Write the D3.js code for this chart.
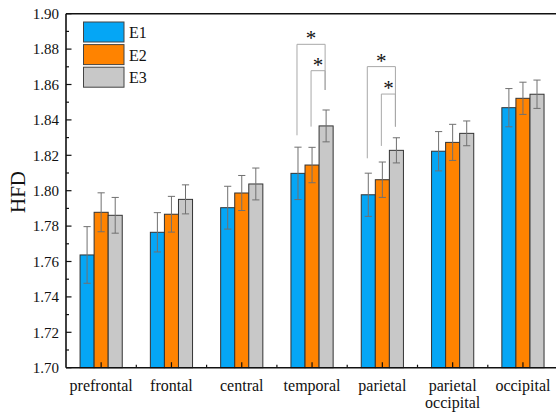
<!DOCTYPE html>
<html>
<head>
<meta charset="utf-8">
<script src="https://cdn.jsdelivr.net/npm/d3@7"></script>
<style>
  html, body { margin: 0; padding: 0; background: #fff; }
  svg { display: block; }
  text { font-family: "Liberation Serif", "Times New Roman", serif; fill: #111; }
</style>
</head>
<body>
<svg id="chart" width="556" height="417"></svg>
<script>
// Regions (x-axis categories); "parietal occipital" wraps onto two lines
const categories = ["prefrontal", "frontal", "central", "temporal", "parietal", "parietal occipital", "occipital"];
const seriesNames = ["E1", "E2", "E3"];
const seriesColors = ["#05a6f5", "#ff8300", "#c8c8c8"];

// Mean HFD per region for each condition
const e1Mean = [1.7637, 1.7765, 1.7904, 1.8098, 1.7977, 1.8223, 1.8469];
const e2Mean = [1.7878, 1.7867, 1.7987, 1.8145, 1.8062, 1.8273, 1.8522];
const e3Mean = [1.7861, 1.7951, 1.8038, 1.8366, 1.8228, 1.8324, 1.8545];

// Error (half-length of each error bar)
const e1Err = [0.0160, 0.0111, 0.0121, 0.0148, 0.0122, 0.0111, 0.0108];
const e2Err = [0.0110, 0.0101, 0.0099, 0.0100, 0.0100, 0.0102, 0.0091];
const e3Err = [0.0101, 0.0082, 0.0090, 0.0090, 0.0071, 0.0070, 0.0080];

// Y axis ticks
const yTicks = [1.70, 1.72, 1.74, 1.76, 1.78, 1.80, 1.82, 1.84, 1.86, 1.88, 1.90];

// Significance brackets: region, the two compared series, top level and leg ends (HFD units)
const sigCategory = ["temporal", "temporal", "parietal", "parietal"];
const sigFrom     = ["E1", "E2", "E1", "E2"];
const sigTo       = ["E3", "E3", "E3", "E3"];
const sigTop      = [1.8827, 1.8678, 1.8701, 1.8546];
const sigFromEnd  = [1.8313, 1.8362, 1.8183, 1.8253];
const sigToEnd    = [1.8569, 1.8569, 1.8362, 1.8362];

const means = [e1Mean, e2Mean, e3Mean];
const errs = [e1Err, e2Err, e3Err];

const svg = d3.select("#chart");
const margin = { left: 66, top: 13.7, bottom: 367.7 };
const plotRight = 558.1;

const x0 = d3.scaleBand().domain(categories).range([margin.left, plotRight]).padding(0);
const bw = x0.bandwidth();
const x1 = d3.scaleBand().domain(seriesNames).range([bw * 0.2, bw * 0.8]).padding(0);
const y = d3.scaleLinear().domain([1.70, 1.90]).range([margin.bottom, margin.top]);

// Bars
const rows = [];
categories.forEach((c, i) => {
  seriesNames.forEach((s, j) => {
    rows.push({ cat: c, ser: s, color: seriesColors[j], v: means[j][i], e: errs[j][i] });
  });
});

const gBars = svg.append("g");
gBars.selectAll("rect")
  .data(rows)
  .join("rect")
  .attr("x", d => x0(d.cat) + x1(d.ser))
  .attr("y", d => y(d.v))
  .attr("width", x1.bandwidth())
  .attr("height", d => y(1.70) - y(d.v))
  .attr("fill", d => d.color)
  .attr("stroke", "#333")
  .attr("stroke-width", 1);

// Error bars
const capHalf = 3.6;
const gErr = svg.append("g").attr("stroke", "#707070").attr("stroke-width", 1).attr("fill", "none");
rows.forEach(d => {
  const cx = x0(d.cat) + x1(d.ser) + x1.bandwidth() / 2;
  const yt = y(d.v + d.e), yb = y(d.v - d.e);
  gErr.append("line").attr("x1", cx).attr("x2", cx).attr("y1", yt).attr("y2", yb);
  gErr.append("line").attr("x1", cx - capHalf).attr("x2", cx + capHalf).attr("y1", yt).attr("y2", yt);
  gErr.append("line").attr("x1", cx - capHalf).attr("x2", cx + capHalf).attr("y1", yb).attr("y2", yb);
});

// Significance brackets with asterisks
const gSig = svg.append("g");
sigCategory.forEach((c, k) => {
  const xa = x0(c) + x1(sigFrom[k]) + x1.bandwidth() / 2 - 1;
  const xb = x0(c) + x1(sigTo[k]) + x1.bandwidth() / 2 - 1;
  const path = d3.path();
  path.moveTo(xa, y(sigFromEnd[k]));
  path.lineTo(xa, y(sigTop[k]));
  path.lineTo(xb, y(sigTop[k]));
  path.lineTo(xb, y(sigToEnd[k]));
  gSig.append("path").attr("d", path.toString())
    .attr("fill", "none").attr("stroke", "#a8a8a8").attr("stroke-width", 1);
  gSig.append("text")
    .attr("x", (xa + xb) / 2)
    .attr("y", y(sigTop[k]) + 1)
    .attr("text-anchor", "middle")
    .attr("font-size", 21)
    .text("*");
});

// Axes
const yAxis = d3.axisLeft(y).tickValues(yTicks).tickFormat(d3.format(".2f")).tickSize(0).tickPadding(7);
const gy = svg.append("g").attr("transform", `translate(${margin.left},0)`).call(yAxis);
gy.select(".domain").remove();
gy.attr("font-family", null);
gy.selectAll("text").attr("font-size", 15).attr("fill", "#111");

// inward major/minor ticks on the y axis
const yMinor = d3.range(0, 20).map(i => 1.71 + i * 0.02).filter(v => v < 1.90);
const gTicks = svg.append("g").attr("stroke", "#111").attr("stroke-width", 1.2);
yTicks.forEach(v => {
  gTicks.append("line").attr("x1", margin.left).attr("x2", margin.left + 5.5).attr("y1", y(v)).attr("y2", y(v));
});
yMinor.forEach(v => {
  gTicks.append("line").attr("x1", margin.left).attr("x2", margin.left + 3).attr("y1", y(v)).attr("y2", y(v));
});
// inward ticks on the x axis: major at category centres, minor at boundaries
categories.forEach(c => {
  const cx = x0(c) + bw / 2;
  gTicks.append("line").attr("x1", cx).attr("x2", cx).attr("y1", y(1.70)).attr("y2", y(1.70) - 5.5);
  const bx = x0(c) + bw;
  gTicks.append("line").attr("x1", bx).attr("x2", bx).attr("y1", y(1.70)).attr("y2", y(1.70) - 3);
});

// frame lines: left, bottom, top
const gFrame = svg.append("g").attr("stroke", "#111").attr("stroke-width", 1.6).attr("fill", "none");
gFrame.append("line").attr("x1", margin.left).attr("x2", margin.left).attr("y1", margin.top).attr("y2", margin.bottom);
gFrame.append("line").attr("x1", margin.left).attr("x2", plotRight).attr("y1", margin.bottom).attr("y2", margin.bottom);
gFrame.append("line").attr("x1", margin.left).attr("x2", plotRight).attr("y1", margin.top).attr("y2", margin.top);

// category labels
const gx = svg.append("g");
categories.forEach(c => {
  const cx = x0(c) + bw / 2;
  const words = c === "parietal occipital" ? ["parietal", "occipital"] : [c];
  const t = gx.append("text").attr("x", cx).attr("y", 391).attr("text-anchor", "middle").attr("font-size", 16);
  words.forEach((w, i) => {
    t.append("tspan").attr("x", cx).attr("dy", i === 0 ? 0 : 17).text(w);
  });
});

// y axis title
svg.append("text")
  .attr("transform", "translate(25,192) rotate(-90)")
  .attr("text-anchor", "middle")
  .attr("font-size", 21)
  .text("HFD");

// legend
const gLeg = svg.append("g");
seriesNames.forEach((s, j) => {
  const ly = 22 + j * 22.6;
  gLeg.append("rect").attr("x", 83.5).attr("y", ly).attr("width", 40.5).attr("height", 20)
    .attr("fill", seriesColors[j]).attr("stroke", "#444").attr("stroke-width", 1);
  gLeg.append("text").attr("x", 129).attr("y", ly + 16).attr("font-size", 16).text(s);
});
</script>
</body>
</html>
